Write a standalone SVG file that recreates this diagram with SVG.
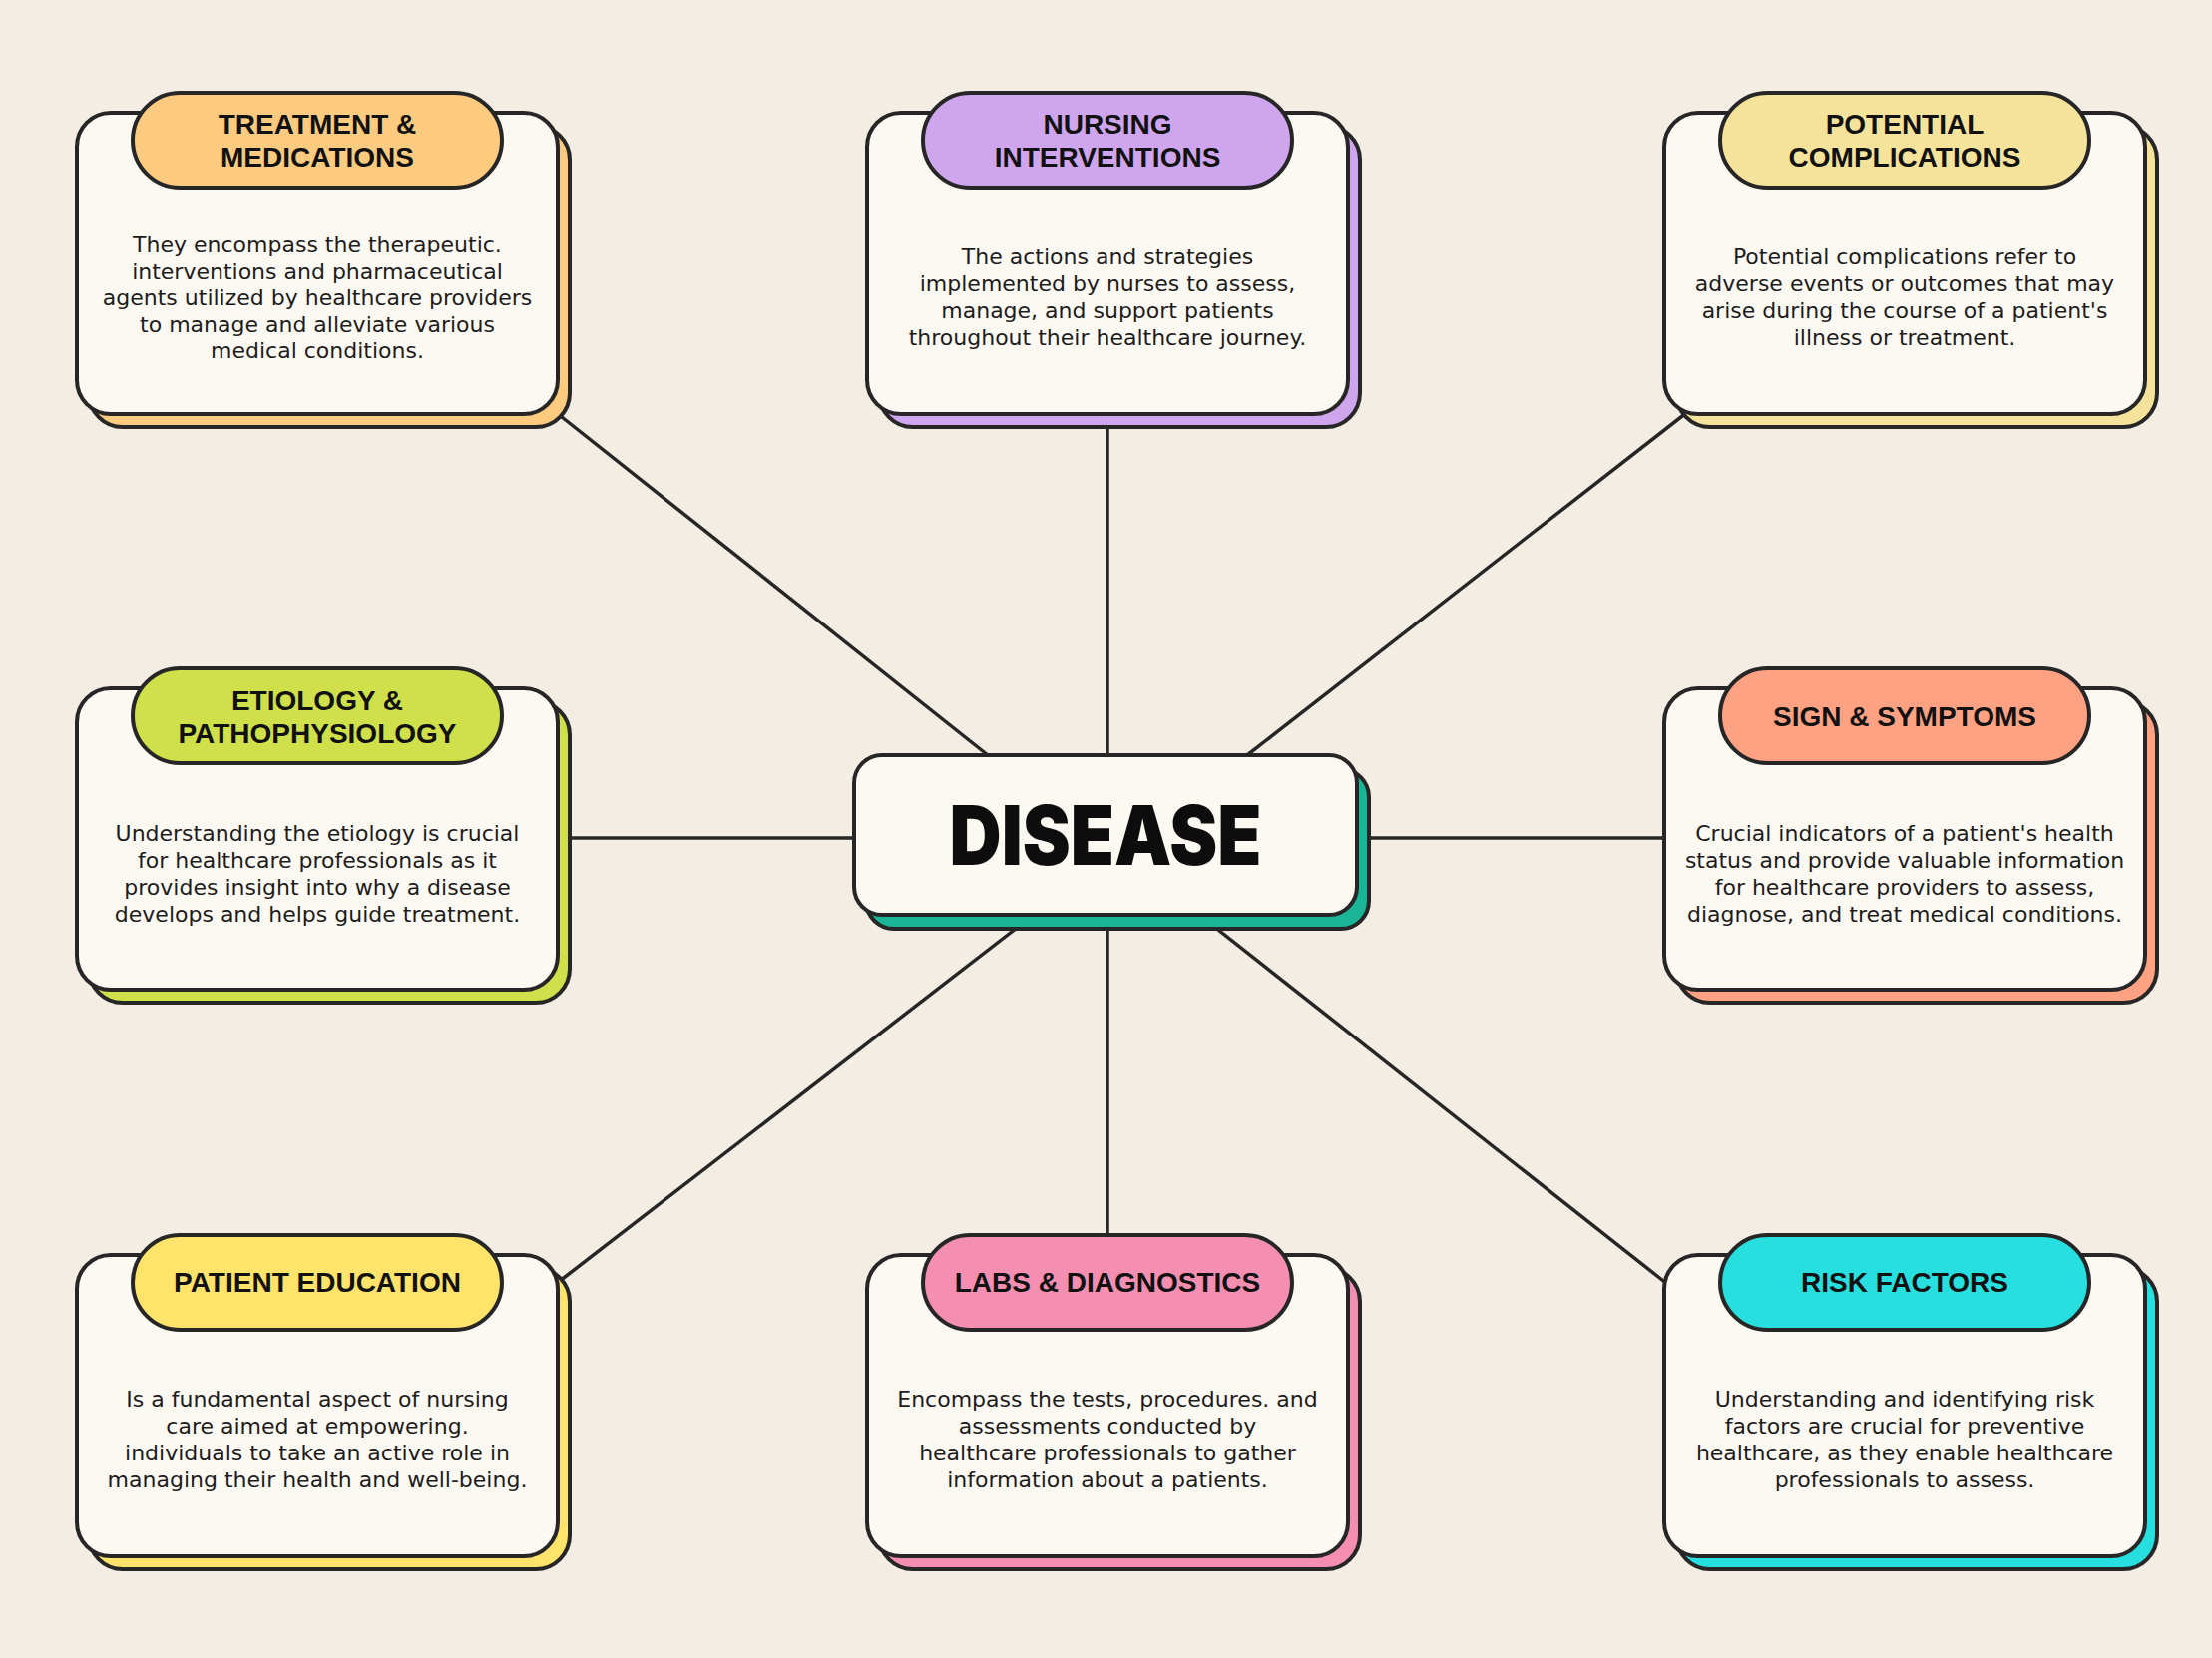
<svg xmlns="http://www.w3.org/2000/svg" width="2217" height="1662" viewBox="0 0 2217 1662">
<style>
.card{fill:#FCF8F2;stroke:#262626;stroke-width:4}
.sh{stroke:#262626;stroke-width:4}
.pill{stroke:#262626;stroke-width:4}
.conn{stroke:#262626;stroke-width:3.5;fill:none}
.title{font-family:"Liberation Sans",Arial,sans-serif;font-weight:bold;font-size:28px;text-anchor:middle;fill:#111}
.body{font-family:"DejaVu Sans","Open Sans",sans-serif;font-size:22px;text-anchor:middle;fill:#1c1c1c}
.big{font-family:Inter,"Liberation Sans",Arial,sans-serif;font-weight:900;font-size:82px;text-anchor:middle;fill:#0d0d0d}
</style>
<rect width="2217" height="1662" fill="#F4EDE4"/>
<g id="connectors">
<line class="conn" x1="1110" y1="415" x2="1110" y2="757"/>
<line class="conn" x1="1110" y1="917" x2="1110" y2="1240"/>
<line class="conn" x1="560" y1="840" x2="856" y2="840"/>
<line class="conn" x1="1360" y1="840" x2="1668" y2="840"/>
<line class="conn" x1="558" y1="414" x2="990" y2="757"/>
<line class="conn" x1="1690" y1="414" x2="1250" y2="757"/>
<line class="conn" x1="561" y1="1284" x2="1036" y2="917"/>
<line class="conn" x1="1671" y1="1287" x2="1202" y2="917"/>
</g>
<g id="treatment">
<rect class="sh" x="89" y="126" width="482" height="302" rx="34" fill="#FDCB80"/>
<rect class="card" x="77" y="113" width="482" height="302" rx="34"/>
<rect class="pill" x="133" y="93" width="370" height="95" rx="47.5" fill="#FDCB80"/>
<text class="title" x="318" y="134">TREATMENT &amp;</text>
<text class="title" x="318" y="167">MEDICATIONS</text>
<text class="body" x="318"><tspan x="318" y="253">They encompass the therapeutic.</tspan><tspan x="318" y="280">interventions and pharmaceutical</tspan><tspan x="318" y="306">agents utilized by healthcare providers</tspan><tspan x="318" y="333">to manage and alleviate various</tspan><tspan x="318" y="359">medical conditions.</tspan></text>
</g>
<g id="nursing">
<rect class="sh" x="881" y="126" width="482" height="302" rx="34" fill="#CFA6EE"/>
<rect class="card" x="869" y="113" width="482" height="302" rx="34"/>
<rect class="pill" x="925" y="93" width="370" height="95" rx="47.5" fill="#CFA6EE"/>
<text class="title" x="1110" y="134">NURSING</text>
<text class="title" x="1110" y="167">INTERVENTIONS</text>
<text class="body"><tspan x="1110" y="265">The actions and strategies</tspan><tspan x="1110" y="292">implemented by nurses to assess,</tspan><tspan x="1110" y="319">manage, and support patients</tspan><tspan x="1110" y="346">throughout their healthcare journey.</tspan></text>
</g>
<g id="complications">
<rect class="sh" x="1680" y="126" width="482" height="302" rx="34" fill="#F5E39B"/>
<rect class="card" x="1668" y="113" width="482" height="302" rx="34"/>
<rect class="pill" x="1724" y="93" width="370" height="95" rx="47.5" fill="#F5E39B"/>
<text class="title" x="1909" y="134">POTENTIAL</text>
<text class="title" x="1909" y="167">COMPLICATIONS</text>
<text class="body"><tspan x="1909" y="265">Potential complications refer to</tspan><tspan x="1909" y="292">adverse events or outcomes that may</tspan><tspan x="1909" y="319">arise during the course of a patient's</tspan><tspan x="1909" y="346">illness or treatment.</tspan></text>
</g>
<g id="etiology">
<rect class="sh" x="89" y="703" width="482" height="302" rx="34" fill="#CFE04A"/>
<rect class="card" x="77" y="690" width="482" height="302" rx="34"/>
<rect class="pill" x="133" y="670" width="370" height="95" rx="47.5" fill="#CFE04A"/>
<text class="title" x="318" y="712">ETIOLOGY &amp;</text>
<text class="title" x="318" y="745">PATHOPHYSIOLOGY</text>
<text class="body"><tspan x="318" y="843">Understanding the etiology is crucial</tspan><tspan x="318" y="870">for healthcare professionals as it</tspan><tspan x="318" y="897">provides insight into why a disease</tspan><tspan x="318" y="924">develops and helps guide treatment.</tspan></text>
</g>
<g id="signs">
<rect class="sh" x="1680" y="703" width="482" height="302" rx="34" fill="#FFA283"/>
<rect class="card" x="1668" y="690" width="482" height="302" rx="34"/>
<rect class="pill" x="1724" y="670" width="370" height="95" rx="47.5" fill="#FFA283"/>
<text class="title" x="1909" y="728">SIGN &amp; SYMPTOMS</text>
<text class="body"><tspan x="1909" y="843">Crucial indicators of a patient's health</tspan><tspan x="1909" y="870">status and provide valuable information</tspan><tspan x="1909" y="897">for healthcare providers to assess,</tspan><tspan x="1909" y="924">diagnose, and treat medical conditions.</tspan></text>
</g>
<g id="education">
<rect class="sh" x="89" y="1271" width="482" height="302" rx="34" fill="#FFE36B"/>
<rect class="card" x="77" y="1258" width="482" height="302" rx="34"/>
<rect class="pill" x="133" y="1238" width="370" height="95" rx="47.5" fill="#FFE36B"/>
<text class="title" x="318" y="1295">PATIENT EDUCATION</text>
<text class="body"><tspan x="318" y="1410">Is a fundamental aspect of nursing</tspan><tspan x="318" y="1437">care aimed at empowering.</tspan><tspan x="318" y="1464">individuals to take an active role in</tspan><tspan x="318" y="1491">managing their health and well-being.</tspan></text>
</g>
<g id="labs">
<rect class="sh" x="881" y="1271" width="482" height="302" rx="34" fill="#F48FB1"/>
<rect class="card" x="869" y="1258" width="482" height="302" rx="34"/>
<rect class="pill" x="925" y="1238" width="370" height="95" rx="47.5" fill="#F48FB1"/>
<text class="title" x="1110" y="1295">LABS &amp; DIAGNOSTICS</text>
<text class="body"><tspan x="1110" y="1410">Encompass the tests, procedures. and</tspan><tspan x="1110" y="1437">assessments conducted by</tspan><tspan x="1110" y="1464">healthcare professionals to gather</tspan><tspan x="1110" y="1491">information about a patients.</tspan></text>
</g>
<g id="risk">
<rect class="sh" x="1680" y="1271" width="482" height="302" rx="34" fill="#28DFE0"/>
<rect class="card" x="1668" y="1258" width="482" height="302" rx="34"/>
<rect class="pill" x="1724" y="1238" width="370" height="95" rx="47.5" fill="#28DFE0"/>
<text class="title" x="1909" y="1295">RISK FACTORS</text>
<text class="body"><tspan x="1909" y="1410">Understanding and identifying risk</tspan><tspan x="1909" y="1437">factors are crucial for preventive</tspan><tspan x="1909" y="1464">healthcare, as they enable healthcare</tspan><tspan x="1909" y="1491">professionals to assess.</tspan></text>
</g>
<g id="disease">
<rect class="sh" x="868" y="771" width="504" height="160" rx="28" fill="#19B596"/>
<rect class="card" x="856" y="757" width="504" height="160" rx="28"/>
<text class="big" x="1108" y="867" textLength="313" lengthAdjust="spacingAndGlyphs">DISEASE</text>
</g>
</svg>
